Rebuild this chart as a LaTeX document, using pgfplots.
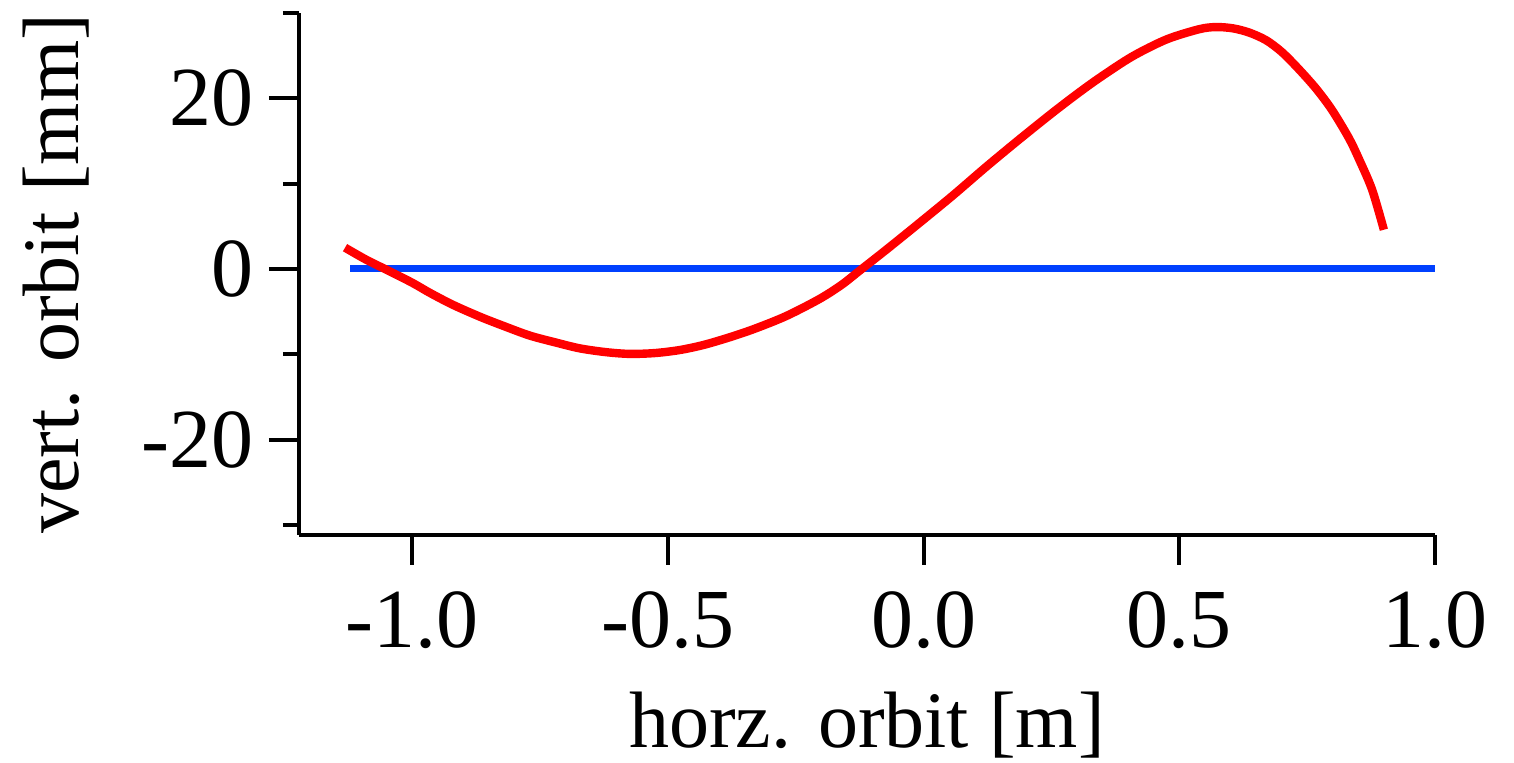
\documentclass[border=0pt]{standalone}
\usepackage{pgfplots}
\pgfplotsset{compat=1.18}
\usepackage{fontspec}
\setmainfont{Liberation Serif}
\definecolor{myred}{RGB}{255,0,0}
\definecolor{myblue}{RGB}{0,64,255}
\begin{document}
\begin{tikzpicture}
\begin{axis}[
  at={(149.5pt,114pt)}, anchor=south west,
  scale only axis, width=568pt, height=261pt,
  xmin=-1.221, xmax=1.0, ymin=-31.17, ymax=30,
  axis x line*=bottom, axis y line*=left,
  axis line style={line width=2pt, -},
  xtick={-1,-0.5,0,0.5,1},
  ytick={-20,0,20},
  minor ytick={-30,-10,10,30},
  tick align=outside,
  major tick length=15pt, minor tick length=8pt,
  every tick/.style={line width=2pt, black},
  /pgf/number format/assume math mode=true,
  ticklabel style={font=\fontsize{42}{50}\selectfont},
  xticklabel style={yshift=-10pt, /pgf/number format/fixed, /pgf/number format/fixed zerofill, /pgf/number format/precision=1},
  yticklabel style={xshift=-4pt},
  label style={font=\fontsize{40}{48}\selectfont},
  xlabel={horz. orbit [m]},
  ylabel={vert. orbit [mm]},
  xlabel style={at={(axis description cs:0.5,-0.408)}, anchor=base},
  ylabel style={at={(axis description cs:-0.1945,0.5)}, anchor=base, rotate=0},
  clip=false,
]
\addplot[myblue, line width=3.5pt] coordinates {(-1.121,0) (1.0,0)};
\addplot[myred, line width=4.2pt, smooth] coordinates {
(-1.131,2.5) (-1.09,1.1) (-1.053,0) (-1.00,-1.6) (-0.965,-2.8) (-0.92,-4.2)
(-0.867,-5.6) (-0.82,-6.7) (-0.770,-7.8) (-0.72,-8.6) (-0.672,-9.3) (-0.62,-9.75)
(-0.574,-9.95) (-0.525,-9.85) (-0.477,-9.5) (-0.43,-8.9) (-0.379,-8.0) (-0.33,-7.0)
(-0.268,-5.5) (-0.203,-3.5) (-0.16,-1.85) (-0.125,-0.2) (-0.072,2.3) (-0.008,5.4)
(0.057,8.6) (0.123,12.0) (0.1875,15.2) (0.252,18.3) (0.30,20.5) (0.344,22.4)
(0.408,24.9) (0.475,26.9) (0.539,28.1) (0.572,28.35) (0.605,28.2) (0.637,27.7)
(0.67,26.8) (0.701,25.4) (0.734,23.4) (0.768,21.1) (0.799,18.6) (0.832,15.3)
(0.852,12.8) (0.877,9.3) (0.900,4.6)};
\end{axis}
\pgfresetboundingbox
\path[use as bounding box] (0,0) rectangle (757pt,381.5pt);
\end{tikzpicture}
\end{document}
